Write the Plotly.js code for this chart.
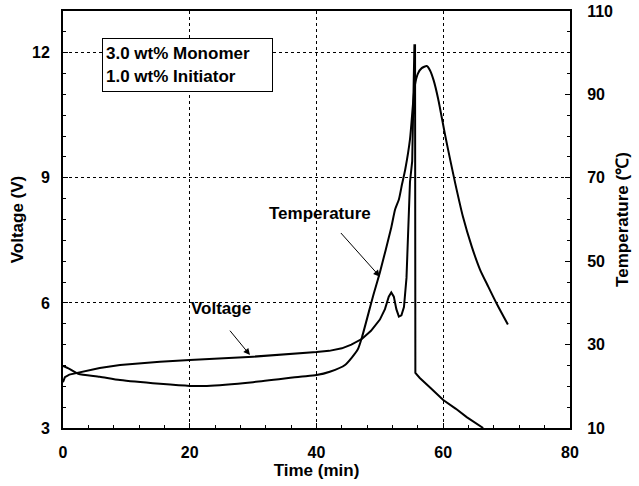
<!DOCTYPE html>
<html>
<head>
<meta charset="utf-8">
<script src="https://cdn.plot.ly/plotly-3.0.1.min.js"></script>
<style>html,body{margin:0;padding:0;background:#fff;}#chart{width:639px;height:486px;}</style>
</head>
<body>
<div id="chart"></div>
<script>
// Voltage (left axis, V)
const timeV = [0, 0.3, 1, 2.4, 5.8, 9, 15.3, 20, 30, 40, 42, 44, 45.5, 47.2, 48.6, 50, 50.8, 51.4, 51.8, 52.2, 52.6, 53.0, 53.4, 53.8, 54.2, 54.75, 55.1, 55.45, 55.55, 55.6, 56.3, 58, 60, 62, 63.7, 66.3];
const voltage = [4.1, 4.22, 4.28, 4.33, 4.44, 4.51, 4.59, 4.63, 4.71, 4.82, 4.85, 4.91, 5.0, 5.14, 5.33, 5.6, 5.85, 6.15, 6.25, 6.15, 5.85, 5.67, 5.7, 5.9, 6.6, 8.9, 9.4, 12.18, 12.18, 4.32, 4.2, 3.96, 3.67, 3.46, 3.26, 3.0];

// Temperature (right axis, °C)
const timeT = [0, 1, 2.4, 5.8, 9, 15.3, 20, 22.7, 30, 37.4, 40, 42.1, 44.5, 46.5, 47.2, 48.9, 50, 51.8, 52.4, 53.0, 53.5, 54.0, 54.75, 55.2, 55.5, 56.0, 56.6, 57.4, 57.9, 58.5, 59.2, 60.3, 61.1, 61.9, 63.1, 64.5, 65.8, 67.1, 68.5, 70.2];
const temperature = [24.9, 24.2, 23.0, 22.3, 21.5, 20.6, 20.1, 20.1, 21.0, 22.3, 22.7, 23.5, 25.1, 28.8, 31.9, 41.5, 47.3, 58.1, 62.4, 64.8, 68.5, 72.0, 79.2, 87.2, 92.0, 95.0, 96.3, 96.8, 95.8, 93.3, 88.9, 80.2, 74.3, 68.6, 60.7, 53.5, 48.0, 43.9, 39.6, 34.8];

const xTicks = [0, 20, 40, 60, 80];
const yTicks = [3, 6, 9, 12];
const y2Ticks = [10, 30, 50, 70, 90, 110];

const F = {family: 'Liberation Sans, Arial, sans-serif', color: '#000', weight: 'bold'};
const tickF = Object.assign({}, F, {size: 16});
const titleF = Object.assign({}, F, {size: 17});

const traces = [
  {x: timeV, y: voltage, type: 'scatter', mode: 'lines', yaxis: 'y', line: {color: '#000', width: 2}, hoverinfo: 'skip'},
  {x: timeT, y: temperature, type: 'scatter', mode: 'lines', yaxis: 'y2', line: {color: '#000', width: 2, shape: 'spline', smoothing: 0.6}, hoverinfo: 'skip'}
];

const layout = {
  width: 639, height: 486,
  margin: {l: 63, r: 69, t: 11, b: 58},
  paper_bgcolor: '#fff', plot_bgcolor: '#fff',
  showlegend: false,
  xaxis: {
    range: [0, 80], tickvals: xTicks, ticktext: xTicks.map(String),
    showline: true, linecolor: '#000', linewidth: 2, mirror: true,
    ticks: 'inside', ticklen: 5, tickcolor: '#000', tickwidth: 1,
    showgrid: true, gridcolor: '#000', gridwidth: 1, griddash: 'dot',
    zeroline: false, tickfont: tickF, ticklabelstandoff: 9,
    minor: {dtick: 4, ticks: 'inside', ticklen: 3, tickcolor: '#000', showgrid: false},
    title: {text: 'Time (min)', font: titleF, standoff: 4}
  },
  yaxis: {
    range: [3, 13], tickvals: yTicks, ticktext: yTicks.map(String),
    showline: true, linecolor: '#000', linewidth: 2,
    ticks: 'inside', ticklen: 5, tickcolor: '#000', tickwidth: 1,
    showgrid: true, gridcolor: '#000', gridwidth: 1, griddash: 'dot',
    zeroline: false, tickfont: tickF, ticklabelstandoff: 8,
    minor: {dtick: 0.5, ticks: 'inside', ticklen: 3, tickcolor: '#000', showgrid: false},
    title: {text: 'Voltage (V)', font: titleF, standoff: 4}
  },
  yaxis2: {
    overlaying: 'y', side: 'right',
    range: [10, 110], tickvals: y2Ticks, ticktext: y2Ticks.map(String),
    showline: true, linecolor: '#000', linewidth: 2,
    ticks: 'inside', ticklen: 5, tickcolor: '#000', tickwidth: 1,
    showgrid: false, zeroline: false, tickfont: tickF, ticklabelstandoff: 12,
    minor: {dtick: 5, ticks: 'inside', ticklen: 3, tickcolor: '#000', showgrid: false},
    title: {text: 'Temperature (℃)', font: titleF, standoff: 4}
  },
  annotations: [
    {x: 6.15, y: 12.35, xref: 'x', yref: 'y', xanchor: 'left', yanchor: 'top',
     text: '3.0 wt% Monomer<br>1.0 wt% Initiator', showarrow: false, align: 'left',
     font: titleF, bordercolor: '#000', borderwidth: 1, borderpad: 3, bgcolor: '#fff', width: 163, height: 46},
    {x: 50.0, y: 6.63, xref: 'x', yref: 'y', ax: -42, ay: -47, axref: 'pixel', ayref: 'pixel',
     text: ' ', showarrow: true, arrowhead: 2, arrowsize: 1.3, arrowwidth: 1, arrowcolor: '#000'},
    {x: 40.5, y: 8.15, xref: 'x', yref: 'y', text: 'Temperature', showarrow: false, font: titleF},
    {x: 29.5, y: 4.75, xref: 'x', yref: 'y', ax: -23, ay: -28, axref: 'pixel', ayref: 'pixel',
     text: ' ', showarrow: true, arrowhead: 2, arrowsize: 1.3, arrowwidth: 1, arrowcolor: '#000'},
    {x: 24.9, y: 5.86, xref: 'x', yref: 'y', text: 'Voltage', showarrow: false, font: titleF}
  ]
};

Plotly.newPlot('chart', traces, layout, {displayModeBar: false, staticPlot: true});
</script>
</body>
</html>
